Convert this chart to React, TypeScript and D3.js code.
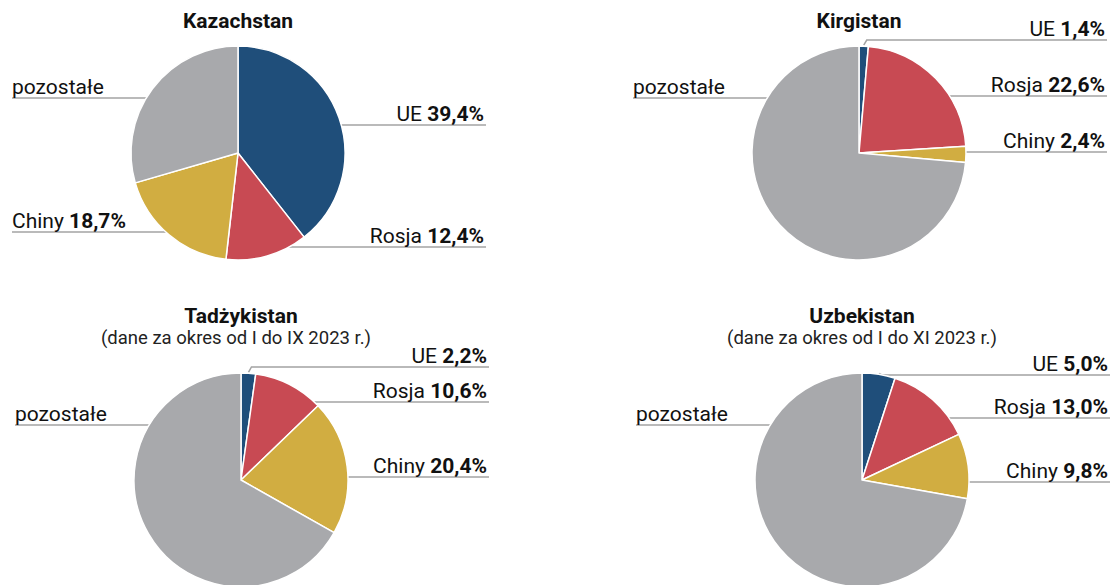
import React from 'react';
import * as d3 from 'd3';

const segments = ['UE', 'Rosja', 'Chiny', 'pozostałe'];
const segmentColors = ['#1f4e7a', '#c84a53', '#d1ad41', '#a8a9ac'];

const titles = ['Kazachstan', 'Kirgistan', 'Tadżykistan', 'Uzbekistan'];
const subtitles = ['', '', '(dane za okres od I do IX 2023 r.)', '(dane za okres od I do XI 2023 r.)'];

const kazachstan = [39.4, 12.4, 18.7, 29.5];
const kirgistan = [1.4, 22.6, 2.4, 73.6];
const tadzykistan = [2.2, 10.6, 20.4, 66.8];
const uzbekistan = [5.0, 13.0, 9.8, 72.2];
const countryValues = [kazachstan, kirgistan, tadzykistan, uzbekistan];

// layout (not data)
const panels = [
  { cx: 238, cy: 153, titleY: 27.5, subY: 0, subDx: 0, labelY: [125, 247, 232, 98], left: [false, false, true, true] },
  { cx: 859, cy: 153, titleY: 27.5, subY: 0, subDx: 0, labelY: [40, 96, 152, 98], left: [false, false, false, true] },
  { cx: 241, cy: 480, titleY: 323, subY: 344, subDx: -5, labelY: [367, 402, 477, 425], left: [false, false, false, true] },
  { cx: 862, cy: 480, titleY: 323, subY: 344, subDx: 0, labelY: [375, 418, 482, 425], left: [false, false, false, true] },
];
const R = 107;
const LEFT_OFF = 226;
const RIGHT_OFF = 248;
const FONT = 'Roboto, sans-serif';
const LINE_COLOR = '#a3a3a3';

const fmt = (v: number) => v.toFixed(1).replace('.', ',') + '%';

function Panel({ idx }: { idx: number }) {
  const p = panels[idx];
  const values = countryValues[idx];
  const pie = d3.pie<number>().sort(null).value((d) => d)(values);
  const arc = d3.arc<d3.PieArcDatum<number>>().innerRadius(0).outerRadius(R);
  const xLeft = p.cx - LEFT_OFF;
  const xRight = p.cx + RIGHT_OFF;

  const leaders = pie.map((a, i) => {
    const y = p.labelY[i];
    const isLeft = p.left[i];
    const dy = y - p.cy;
    let d: string;
    if (Math.abs(dy) < R - 3) {
      const dx = Math.sqrt(R * R - dy * dy);
      d = isLeft ? `M${xLeft},${y}H${p.cx - dx}` : `M${p.cx + dx},${y}H${xRight}`;
    } else {
      const mid = (a.startAngle + a.endAngle) / 2;
      const px = p.cx + (R + 1) * Math.sin(mid);
      const py = p.cy - (R + 1) * Math.cos(mid);
      d = `M${px},${py}L${px + 3},${y}H${xRight}`;
    }
    return { d, y, isLeft, i };
  });

  const labelContent = (i: number) =>
    segments[i] === 'pozostałe' ? (
      segments[i]
    ) : (
      <>
        {segments[i] + ' '}
        <tspan fontWeight={700}>{fmt(values[i])}</tspan>
      </>
    );

  return (
    <g>
      <text x={p.cx} y={p.titleY} textAnchor="middle" fontFamily={FONT} fontWeight={700} fontSize={21} fill="#111">
        {titles[idx]}
      </text>
      {subtitles[idx] && (
        <text x={p.cx + p.subDx} y={p.subY} textAnchor="middle" fontFamily={FONT} fontSize={18.5} fill="#222">
          {subtitles[idx]}
        </text>
      )}
      {leaders.map((l) => (
        <path key={'l' + l.i} d={l.d} stroke={LINE_COLOR} strokeWidth={1.5} fill="none" />
      ))}
      <g transform={`translate(${p.cx},${p.cy})`}>
        {pie.map((a, i) => (
          <path key={i} d={arc(a) || ''} fill={segmentColors[i]} stroke="#fff" strokeWidth={1.5} strokeLinejoin="round" />
        ))}
      </g>
      {leaders.map((l) =>
        l.isLeft ? (
          <text key={'t' + l.i} x={xLeft} y={l.y - 4} fontFamily={FONT} fontSize={21} fill="#111">
            {labelContent(l.i)}
          </text>
        ) : (
          <text key={'t' + l.i} x={xRight - 2} y={l.y - 4} textAnchor="end" fontFamily={FONT} fontSize={21} fill="#111">
            {labelContent(l.i)}
          </text>
        )
      )}
    </g>
  );
}

export default function App() {
  return (
    <svg width={1112} height={585} style={{ position: 'absolute', left: 0, top: 0, background: '#fff' }}>
      <rect width={1112} height={585} fill="#fff" />
      {panels.map((_, i) => (
        <Panel key={i} idx={i} />
      ))}
    </svg>
  );
}
